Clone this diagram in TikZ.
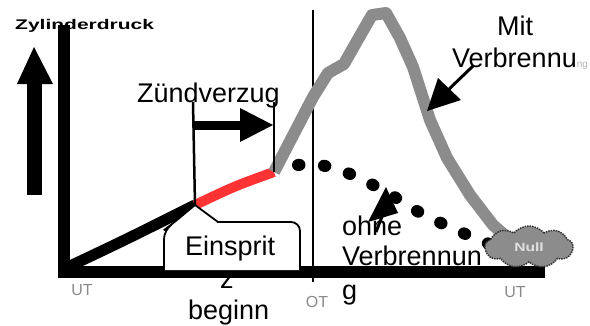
\documentclass[tikz,border=0pt]{standalone}
\usepackage{fontspec}
\setmainfont{Liberation Sans}
\usetikzlibrary{shapes.symbols}
\definecolor{curvegray}{HTML}{8C8C8C}
\definecolor{curvered}{HTML}{FF3333}
\definecolor{labgray}{HTML}{8A8A8A}
\begin{document}
\begin{tikzpicture}[x=1pt,y=-1pt,
  lbl/.style={font=\fontsize{27}{30}\selectfont, inner sep=0pt, anchor=base west},
  tick/.style={font=\fontsize{16}{16}\selectfont, text=labgray, inner sep=0pt},
  axisline/.style={line width=12pt},
  thinline/.style={line width=2.5pt},
  headfill/.style={fill=black}]
\useasboundingbox (0,0) rectangle (590,325);

% coordinates
\coordinate (origin) at (64,272);
\coordinate (ytop) at (64,25);
\coordinate (xend) at (545,272);
\coordinate (inj) at (195,205);
\coordinate (ign) at (274,172);

% hidden "z" under the axis
\node[lbl] (zlbl) at (220,288) {z};

% axes
\draw[axisline] (64,25) -- (64,278);
\draw[axisline] (58,272) -- (xend);

% left arrow
\fill (27,195) rectangle (42,83);
\fill[headfill] (17,84) -- (34,47) -- (53,84) -- cycle;

% axis title
\node[inner sep=0pt, anchor=base west] (ytitle) at (15,29) {\scalebox{1.5}[1]{\fontsize{14}{14}\selectfont\bfseries Zylinderdruck}};

% OT line
\draw[thinline] (313,10) -- (313,282);

% compression curve
\draw[line width=11pt] (70,266) .. controls (125,240) .. (inj);
\draw[line width=10pt, curvered] (inj) .. controls (235,186) .. (ign);

% with combustion (gray)
\draw[line width=12pt, curvegray, line join=round]
  (ign) -- (313,97) -- (328,73) -- (344,64) -- (357,41) -- (372,15) -- (386,13)
  -- (400,38) -- (413,67) -- (422,95) -- (430,120) -- (447,158) -- (470,195) -- (493,225) -- (508,238);

% without combustion (dotted)
\draw[line width=12pt, line cap=round, dash pattern=on 1.5pt off 24.5pt]
  plot[smooth, tension=0.6] coordinates {(298,165) (320,165) (345,172) (367,182) (388,193) (417,211) (443,224) (470,236) (492,245)};

% Zündverzug markers
\draw[thinline] (193,102) -- (inj);
\draw[thinline] (274,102) -- (ign);
\fill (193,121) rectangle (241,130);
\fill[headfill] (240,108) -- (273,125) -- (240,142) -- cycle;
\node[lbl] (zv) at (137,102) {Zündverzug};

% Einspritzbeginn callout
\draw[line width=1.8pt, fill=white, rounded corners=9pt]
  (164,270) -- (164,230) -- (171,225) [sharp corners] -- (inj) -- (218,222)
  [rounded corners=9pt] -- (300,222) -- (300,270);
\node[lbl] (einsp) at (185,255) {Einsprit};
\node[lbl] (beginn) at (188,319) {beginn};

% Null cloud
\node[cloud, cloud puffs=9, cloud puff arc=100, aspect=2.1, minimum width=88pt, minimum height=42pt,
  fill=curvegray, draw=black!80, line width=1.5pt, densely dotted, inner sep=0pt,
  font=\fontsize{12}{12}\selectfont\bfseries, text=gray!25] (null) at (529,247) {\scalebox{1.3}[1]{Null}};

% Mit Verbrennung
\node[lbl] (mit) at (497,35) {Mit};
\node[lbl] (mitv) at (452,67) {Verbrennu{\fontsize{10}{10}\selectfont\color{gray!60}ng}};
\coordinate (mitA) at (473,66);
\coordinate (mitB) at (446,92);
\draw[line width=3pt] (mitA) -- (mitB);
\fill[headfill] (438,78) -- (461,100) -- (427,111) -- cycle;

% ohne Verbrennung
\coordinate (ohA) at (376,232);
\coordinate (ohB) at (383,214);
\draw[line width=3pt] (ohA) -- (ohB);
\fill[headfill] (368,222) -- (386,187) -- (398,213) -- cycle;
\node[lbl] (ohne) at (342,235) {ohne};
\node[lbl] (ohnev) at (342,265) {Verbrennun};
\node[lbl] (ohneg) at (342,299) {g};

% dead centre labels
\node[tick] (ut1) at (82,290) {UT};
\node[tick] (ot) at (317,302) {OT};
\node[tick] (ut2) at (515,292) {UT};
\end{tikzpicture}
\end{document}
